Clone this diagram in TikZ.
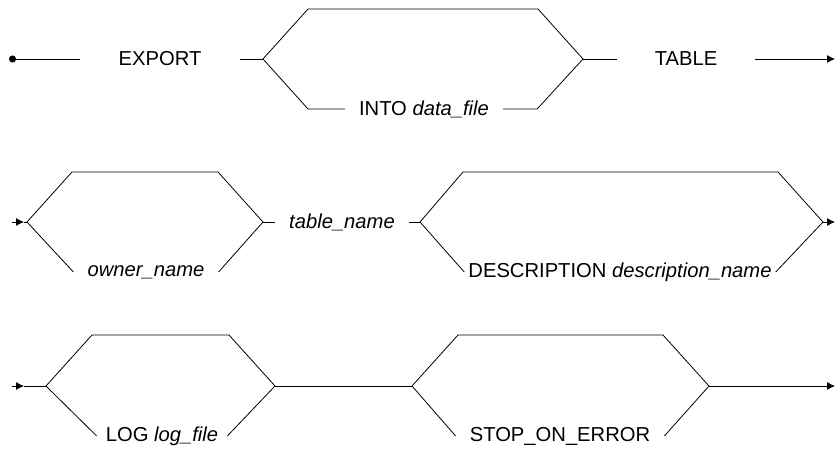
\documentclass[tikz,border=0pt]{standalone}
\usepackage{fontspec}
\setmainfont{Liberation Sans}
\usetikzlibrary{arrows.meta, positioning}
\tikzset{
    kword/.style={inner xsep=14pt, inner ysep=0pt, font=\fontsize{20.2}{24}\selectfont},
    wkword/.style={kword, inner xsep=38pt},
    tkword/.style={kword, inner xsep=4pt},
    rail/.style={draw, line width=0.8pt},
    flow/.style={rail, -{Latex[length=8pt, width=8pt]}},
    startdot/.style={rail, {Circle[length=7pt]}-},
}

\begin{document}
\begin{tikzpicture}[x=1pt, y=-1pt]
    \useasboundingbox (0,0) rectangle (839,451);

    % Row 1
    \coordinate (s1) at (9,59);
    \node[wkword] (export) at (160,59) {EXPORT};
    \coordinate (b1) at (263,59);
    \coordinate (j1) at (583,59);
    \node[kword] (into) at (424,109) {INTO \textit{data\_file}};
    \node[wkword] (table) at (686,59) {TABLE};
    \coordinate (e1) at (835,59);
    \draw[startdot] (s1) -- (export.west);
    \draw[rail] (export.east) -- (b1);
    \draw[rail] (b1) -- ++(45,-50) -- ++(230,0) -- (j1);
    \draw[rail] (b1) -- ++(45,50) -- (into.west);
    \draw[rail] (into.east) -- ++(34,0) -- (j1);
    \draw[rail] (j1) -- (table.west);
    \draw[flow] (table.east) -- (e1);

    % Row 2
    \coordinate (s2) at (12,222);
    \coordinate (a2) at (24,222);
    \coordinate (b2) at (27,222);
    \coordinate (j2) at (263,222);
    \node[kword] (owner) at (146,272) {\textit{owner\_name}};
    \node[kword] (tname) at (342,222) {\textit{table\_name}};
    \coordinate (b3) at (420,222);
    \coordinate (j3) at (823,222);
    \node[tkword] (desc) at (620,272) {DESCRIPTION \textit{description\_name}};
    \coordinate (e2) at (835,222);
    \draw[flow] (s2) -- (a2);
    \draw[rail] (a2) -- (b2);
    \draw[rail] (b2) -- ++(45,-50) -- ++(146,0) -- (j2);
    \draw[rail] (b2) -- (owner.west);
    \draw[rail] (owner.east) -- (j2);
    \draw[rail] (j2) -- (tname.west);
    \draw[rail] (tname.east) -- (b3);
    \draw[rail] (b3) -- ++(43,-50) -- ++(315,0) -- (j3);
    \draw[rail] (b3) -- (desc.west);
    \draw[rail] (desc.east) -- (j3);
    \draw[flow] (j3) -- (e2);

    % Row 3
    \coordinate (s3) at (12,386);
    \coordinate (a3) at (24,386);
    \coordinate (b4) at (46,386);
    \coordinate (j4) at (275,386);
    \node[kword, inner xsep=9pt] (log) at (162,436) {LOG \textit{log\_file}};
    \coordinate (b5) at (412,386);
    \coordinate (j5) at (709,386);
    \node[kword] (stop) at (560,436) {STOP\_ON\_ERROR};
    \coordinate (e3) at (835,386);
    \draw[flow] (s3) -- (a3);
    \draw[rail] (a3) -- (b4);
    \draw[rail] (b4) -- ++(46,-51) -- ++(137,0) -- (j4);
    \draw[rail] (b4) -- (log.west);
    \draw[rail] (log.east) -- (j4);
    \draw[rail] (j4) -- (b5);
    \draw[rail] (b5) -- ++(46,-51) -- ++(205,0) -- (j5);
    \draw[rail] (b5) -- (stop.west);
    \draw[rail] (stop.east) -- (j5);
    \draw[flow] (j5) -- (e3);
\end{tikzpicture}
\end{document}
